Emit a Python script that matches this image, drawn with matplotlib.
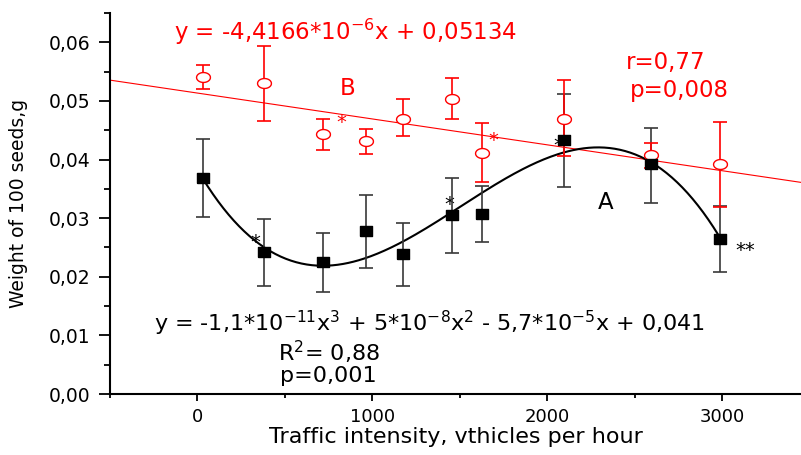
import matplotlib
matplotlib.use("Agg")
import matplotlib.pyplot as plt
from matplotlib.ticker import MultipleLocator, FuncFormatter
import numpy as np

# traffic intensity, vehicles per hour
traffic = [30, 380, 720, 966, 1177, 1457, 1629, 2097, 2594, 2989]

# series A (black squares): mean, lower / upper error bar ends
a_mean = [0.0368, 0.0242, 0.0225, 0.0278, 0.0239, 0.0305, 0.0307, 0.0433, 0.0392, 0.0264]
a_low = [0.0302, 0.0184, 0.0174, 0.0215, 0.0184, 0.0240, 0.0259, 0.0353, 0.0326, 0.0208]
a_high = [0.0435, 0.0298, 0.0274, 0.0339, 0.0291, 0.0368, 0.0355, 0.0511, 0.0453, 0.0320]

# series B (red circles)
b_mean = [0.0540, 0.0530, 0.0443, 0.0431, 0.0470, 0.0503, 0.0412, 0.0470, 0.0407, 0.0392]
b_low = [0.0520, 0.0465, 0.0416, 0.0409, 0.0440, 0.0469, 0.0361, 0.0406, 0.0386, 0.0319]
b_high = [0.0561, 0.0593, 0.0470, 0.0452, 0.0503, 0.0539, 0.0462, 0.0535, 0.0428, 0.0464]

# points (cubic)
curve_x = [30, 377, 760, 1177, 1457, 2291, 2594, 2989]
curve_y = [0.0368, 0.0249, 0.0222, 0.0262, 0.0308, 0.0418, 0.0400, 0.0264]

# red linear regression
b_slope = -4.4166e-6
b_icept = 0.05134

plt.rcParams["font.family"] = ["DejaVu Sans"]
plt.rcParams["mathtext.fontset"] = "dejavusans"

fig = plt.figure(figsize=(8.01, 4.55), dpi=100)
ax = fig.add_axes([110 / 801, 61 / 455, 691 / 801, 381 / 455])

x_min, x_max = -500, 3450
ax.set_xlim(x_min, x_max)
ax.set_ylim(0, 0.065)

# red regression line across the whole axis
lx = np.array([x_min, x_max])
ax.plot(lx, b_slope * lx + b_icept, color="red", lw=0.8, zorder=2)

# black cubic trend
coef = np.polyfit(curve_x, curve_y, 3)
cx = np.linspace(traffic[0], traffic[-1], 300)
ax.plot(cx, np.polyval(coef, cx), color="black", lw=1.5, zorder=3)

a_err = [np.array(a_mean) - np.array(a_low), np.array(a_high) - np.array(a_mean)]
b_err = [np.array(b_mean) - np.array(b_low), np.array(b_high) - np.array(b_mean)]

# slightly wide markers (the original picture is stretched sideways)
sq = [(-1.3, -1), (1.3, -1), (1.3, 1), (-1.3, 1), (-1.3, -1)]
t = np.linspace(0, 2 * np.pi, 40)
ell = list(zip(1.4 * np.cos(t), np.sin(t)))

ax.errorbar(traffic, a_mean, yerr=a_err, fmt="none", ecolor="#383838",
            elinewidth=1.2, capsize=5, capthick=1.2, zorder=4)
ax.errorbar(traffic, b_mean, yerr=b_err, fmt="none", ecolor="red",
            elinewidth=1.2, capsize=5, capthick=1.2, zorder=5)
ax.plot(traffic, b_mean, linestyle="none", marker=ell, ms=10, mfc="white",
        mec="red", mew=1.0, zorder=6)
ax.plot(traffic, a_mean, linestyle="none", marker=sq, ms=9, mfc="black",
        mec="black", zorder=7)

# annotations
EQ = 16.5
ax.text(-137, 0.0617, r"y = -4,4166*10$^{-6}$x + 0,05134", color="red",
        fontsize=EQ, ha="left", va="center")
ax.text(857, 0.0522, "B", color="red", fontsize=EQ, ha="center", va="center")
ax.text(2451, 0.0566, "r=0,77", color="red", fontsize=EQ, ha="left", va="center")
ax.text(2469, 0.0518, "p=0,008", color="red", fontsize=EQ, ha="left", va="center")
ax.text(2331, 0.0327, "A", color="black", fontsize=EQ, ha="center", va="center")
ax.text(-246, 0.0120,
        r"y = -1,1*10$^{-11}$x$^{3}$ + 5*10$^{-8}$x$^{2}$ - 5,7*10$^{-5}$x + 0,041",
        color="black", fontsize=16, ha="left", va="center")
ax.text(463, 0.0071, r"R$^{2}$= 0,88", color="black", fontsize=16,
        ha="left", va="center")
ax.text(474, 0.0030, "p=0,001", color="black", fontsize=16, ha="left", va="center")

# significance stars
ax.text(3131, 0.0245, "**", color="black", fontsize=14, ha="center", va="center")
for sx, sy in [(331, 0.0258), (1440, 0.0323), (2063, 0.0424)]:
    ax.text(sx, sy, "*", color="black", fontsize=14, ha="center", va="center", zorder=3)
for sx, sy in [(823, 0.0464), (1691, 0.0432)]:
    ax.text(sx, sy, "*", color="red", fontsize=14, ha="center", va="center")

# axes styling
for s in ["top", "right"]:
    ax.spines[s].set_visible(False)
ax.spines["left"].set_linewidth(1.5)
ax.spines["bottom"].set_linewidth(1.5)

ax.xaxis.set_major_locator(MultipleLocator(1000))
ax.xaxis.set_minor_locator(MultipleLocator(500))
ax.yaxis.set_major_locator(MultipleLocator(0.01))
ax.yaxis.set_minor_locator(MultipleLocator(0.005))
ax.yaxis.set_major_formatter(FuncFormatter(lambda v, p: f"{v:.2f}".replace(".", ",")))
ax.set_xticks([0, 1000, 2000, 3000])

ax.tick_params(axis="y", which="major", length=8, width=1.3, labelsize=13.5, pad=6)
ax.tick_params(axis="y", which="minor", length=4, width=1.3)
ax.tick_params(axis="x", which="major", length=5, width=1.3, labelsize=13, pad=5)
ax.tick_params(axis="x", which="minor", length=3, width=1.3)

ax.set_xlabel("Traffic intensity, vthicles per hour", fontsize=16)
ax.xaxis.set_label_coords(0.5, -0.113)
ax.xaxis.label.set_va("center")
ax.set_ylabel("Weight of 100 seeds,g", fontsize=13.5)
ax.yaxis.set_label_coords(-0.133, 0.5)
ax.yaxis.label.set_va("center")

fig.savefig("out.png", dpi=100)
